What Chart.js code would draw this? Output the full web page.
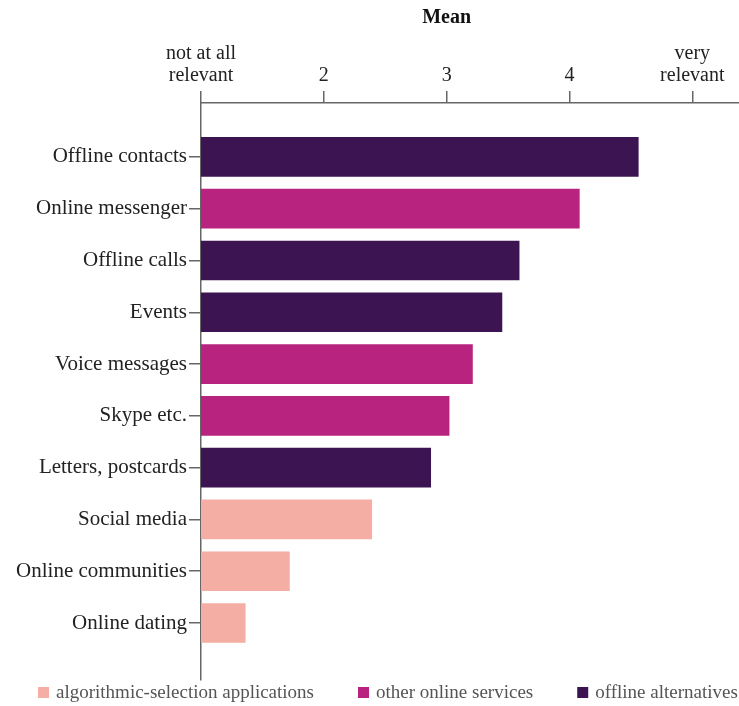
<!DOCTYPE html>
<html>
<head>
<meta charset="utf-8">
<script src="https://cdn.jsdelivr.net/npm/chart.js@4.4.0/dist/chart.umd.min.js"></script>
<style>
    html, body { margin: 0; padding: 0; background: #fff; }
    #wrap { width: 739px; height: 706px; position: relative; }
</style>
</head>
<body>
<div id="wrap"><canvas id="chart"></canvas></div>
<script>
const categories = ['Offline contacts', 'Online messenger', 'Offline calls', 'Events', 'Voice messages',
    'Skype etc.', 'Letters, postcards', 'Social media', 'Online communities', 'Online dating'];
const means = [4.56, 4.08, 3.59, 3.45, 3.21, 3.02, 2.87, 2.39, 1.72, 1.36];
const groupOf = ['offline', 'online', 'offline', 'offline', 'online',
    'online', 'offline', 'algo', 'algo', 'algo'];

const groups = ['algo', 'online', 'offline'];
const groupNames = ['algorithmic-selection applications', 'other online services', 'offline alternatives'];
const groupColors = ['#f4aea3', '#b8237f', '#3c1452'];

const xTicks = [1, 2, 3, 4, 5];
const xTickLabels = [['not at all', 'relevant'], '2', '3', '4', ['very', 'relevant']];

const FONT = "'Liberation Serif', 'DejaVu Serif', serif";
const AXIS = '#666';

const datasets = groups.map((g, gi) => ({
    label: groupNames[gi],
    data: categories
        .map((c, i) => ({ x: means[i], y: i, g: groupOf[i] }))
        .filter(p => p.g === g),
    backgroundColor: groupColors[gi],
    borderWidth: 0,
    barThickness: 39,
    grouped: false
}));

// "Mean" centred over the 1..5 span, plus a bottom legend laid out by hand
const extras = {
    id: 'extras',
    afterDraw(chart) {
        const x = chart.scales.x;
        const ctx = chart.ctx;
        ctx.save();
        ctx.font = `bold 20px ${FONT}`;
        ctx.fillStyle = '#111';
        ctx.textAlign = 'center';
        ctx.textBaseline = 'middle';
        ctx.fillText('Mean', x.getPixelForValue(3), 18);

        ctx.font = `19px ${FONT}`;
        ctx.textAlign = 'left';
        let cx = 38;
        const cy = 693;
        chart.data.datasets.forEach(ds => {
            ctx.fillStyle = ds.backgroundColor;
            ctx.fillRect(cx, cy - 6, 11, 11);
            ctx.fillStyle = '#555';
            ctx.fillText(ds.label, cx + 18, cy);
            cx += 18 + ctx.measureText(ds.label).width + 44;
        });
        ctx.restore();
    }
};

new Chart(document.getElementById('chart'), {
    type: 'bar',
    data: { datasets },
    options: {
        indexAxis: 'y',
        responsive: true,
        maintainAspectRatio: false,
        animation: false,
        layout: { padding: { top: 36, left: 0, right: 0, bottom: 26 } },
        plugins: {
            legend: { display: false },
            tooltip: { enabled: false }
        },
        scales: {
            x: {
                type: 'linear',
                position: 'top',
                min: 1,
                max: 5.38,
                afterBuildTicks: s => { s.ticks = xTicks.map(v => ({ value: v })); },
                afterFit: s => { s.height = 67; },
                ticks: {
                    color: '#222',
                    font: { family: FONT, size: 20, lineHeight: 1.1 },
                    padding: 4,
                    maxRotation: 0,
                    autoSkip: false,
                    callback: v => xTickLabels[xTicks.indexOf(v)]
                },
                grid: { drawOnChartArea: false, drawTicks: true, tickLength: 12, color: AXIS, lineWidth: 1.5 },
                border: { display: true, color: AXIS, width: 1.5 }
            },
            y: {
                type: 'linear',
                reverse: true,
                offset: false,
                min: -1.04,
                max: 10.1,
                afterBuildTicks: s => { s.ticks = categories.map((c, i) => ({ value: i })); },
                afterFit: s => { s.width = 201; },
                ticks: {
                    color: '#222',
                    font: { family: FONT, size: 21 },
                    padding: 2,
                    autoSkip: false,
                    callback: v => categories[v]
                },
                grid: { offset: false, drawOnChartArea: false, drawTicks: true, tickLength: 12, color: AXIS, lineWidth: 1.5 },
                border: { display: true, color: AXIS, width: 1.5 }
            }
        }
    },
    plugins: [extras]
});
</script>
</body>
</html>
